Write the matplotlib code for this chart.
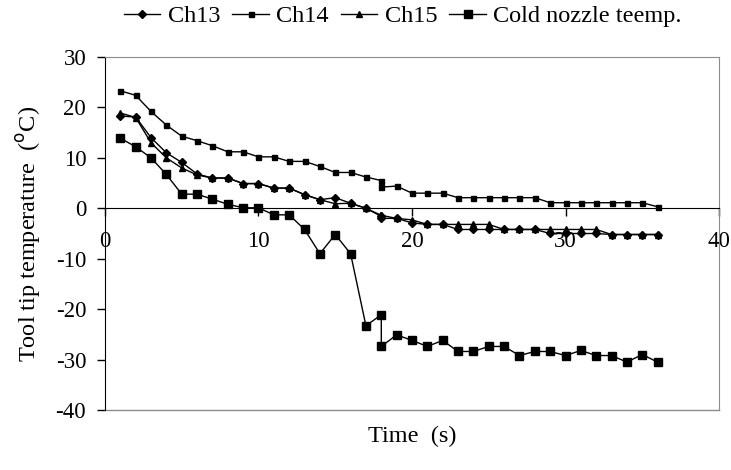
import numpy as np
import matplotlib
matplotlib.use('Agg')
import matplotlib.pyplot as plt

plt.rcParams['font.family'] = ['Liberation Serif', 'DejaVu Serif']
plt.rcParams['axes.unicode_minus'] = False

# time (s); t=18 appears twice in the recorded series
t = [1, 2, 3, 4, 5, 6, 7, 8, 9, 10, 11, 12, 13, 14, 15, 16, 17, 18, 18,
     19, 20, 21, 22, 23, 24, 25, 26, 27, 28, 29, 30, 31, 32, 33, 34, 35, 36]

ch13 = [18.3, 18.1, 14.0, 11.0, 9.1, 6.8, 6.0, 6.0, 4.9, 4.9, 4.0, 4.0, 2.7, 1.7, 2.1, 1.0, 0.0, -1.6, -2.0,
        -2.0, -2.9, -3.2, -3.2, -4.2, -4.2, -4.2, -4.2, -4.2, -4.2, -5.0, -5.0, -5.0, -5.0, -5.2, -5.2, -5.2, -5.2]
ch14 = [23.3, 22.4, 19.2, 16.5, 14.3, 13.4, 12.4, 11.2, 11.2, 10.2, 10.2, 9.3, 9.3, 8.3, 7.1, 7.1, 6.2, 5.5, 4.2,
        4.4, 3.0, 3.0, 3.0, 2.1, 2.1, 2.1, 2.1, 2.1, 2.1, 1.1, 1.1, 1.1, 1.1, 1.1, 1.1, 1.1, 0.3]
ch15 = [18.9, 18.0, 13.0, 10.0, 8.0, 6.6, 6.0, 6.0, 4.9, 4.9, 4.0, 4.0, 2.7, 1.7, 0.9, 1.0, 0.0, -1.4, -1.4,
        -2.0, -2.3, -3.2, -3.2, -3.2, -3.2, -3.2, -4.2, -4.2, -4.2, -4.2, -4.2, -4.2, -4.2, -5.2, -5.2, -5.2, -5.2]
cold = [13.9, 12.2, 10.0, 6.7, 2.8, 2.8, 1.8, 0.8, 0.1, 0.1, -1.3, -1.3, -4.2, -9.0, -5.2, -9.0, -23.3, -21.1, -27.4,
        -25.1, -26.2, -27.4, -26.2, -28.4, -28.4, -27.4, -27.4, -29.2, -28.4, -28.4, -29.2, -28.2, -29.2, -29.2, -30.5, -29.0, -30.5]

labels = ['Ch13', 'Ch14', 'Ch15', 'Cold nozzle teemp.']

fig = plt.figure(figsize=(7.31, 4.70), dpi=100)
ax = fig.add_axes([0.1436, 0.1277, 0.8400, 0.7510])

ax.plot(t, ch13, color='black', lw=1.0, marker='D', ms=3.6, label=labels[0])
ax.plot(t, ch14, color='black', lw=1.0, marker='s', ms=3.6, label=labels[1])
ax.plot(t, ch15, color='black', lw=1.0, marker='^', ms=4.2, label=labels[2])
ax.plot(t, cold, color='black', lw=1.0, marker='s', ms=5.4, label=labels[3])

ax.set_xlim(0, 40)
ax.set_ylim(-40, 30)
ax.set_xticks([0, 10, 20, 30, 40])
ax.set_yticks(np.arange(-40, 31, 10))

# x axis crosses at 0, gray plot-area frame
ax.spines['bottom'].set_position(('data', 0))
ax.spines['bottom'].set_color('black')
ax.spines['left'].set_color('black')
for s in ['top', 'right']:
    ax.spines[s].set_color('#8c8c8c')
ax.plot([0, 1], [0, 0], transform=ax.transAxes, color='#8c8c8c', lw=1.0, clip_on=False)

ax.tick_params(axis='x', direction='out', length=6, width=1, pad=10, labelsize=16.5)
ax.tick_params(axis='y', direction='out', length=5.5, width=1, pad=8, labelsize=16.5)

ax.set_ylabel('Tool tip temperature  ($^{\\rm o}$C)', fontsize=17.5, labelpad=9)
ax.text(0.5, -0.075, 'Time  (s)', transform=ax.transAxes, ha='center', va='center', fontsize=17.5)

fig.legend(loc='center', bbox_to_anchor=(0.551, 0.965), ncol=4, frameon=False, fontsize=17.5,
           handlelength=1.5, handletextpad=0.3, columnspacing=0.5, borderaxespad=0)

fig.savefig('out.png', dpi=100)
